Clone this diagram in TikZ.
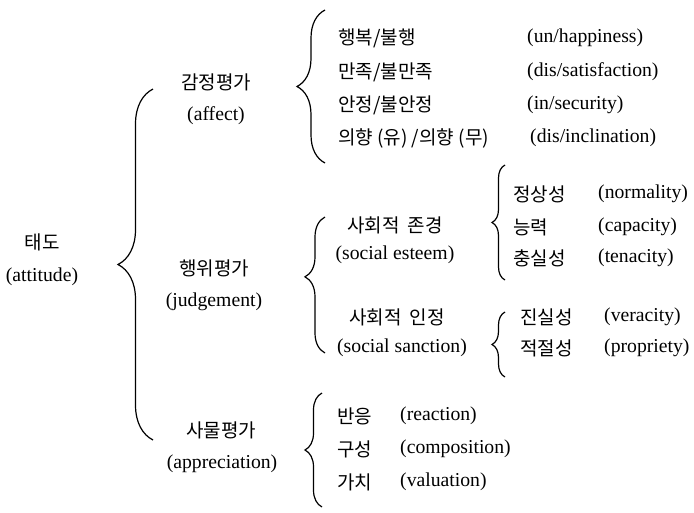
\documentclass[tikz,border=0pt]{standalone}
\usepackage{fontspec}
\setmainfont{Liberation Serif}
\newfontfamily\kor{Noto Sans CJK KR}
\usetikzlibrary{decorations.pathreplacing}

\begin{document}
\begin{tikzpicture}[x=1pt,y=-1pt,
      every node/.style={inner sep=0pt,font=\fontsize{19.7}{21}\selectfont},
      ko/.style={font=\kor\fontsize{19}{21}\selectfont},
      item/.style={anchor=west},
      curly/.style={decorate,line width=1.2pt,
        decoration={brace,amplitude=#1,aspect=0.5}}]
    \useasboundingbox (0,0) rectangle (694,512);

    % level 0
    \node[ko] (attitude) at (42,242) {태도};
    \node (attitudeEn) at (42,277) {(attitude)};

    % level 1
    \node[ko] (affect) at (216,82) {감정평가};
    \node (affectEn) at (216,116) {(affect)};
    \node[ko] (judgement) at (214,268) {행위평가};
    \node (judgementEn) at (214,302) {(judgement)};
    \node[ko] (apprec) at (221,430) {사물평가};
    \node (apprecEn) at (222,464) {(appreciation)};

    % affect items
    \node[ko,item] (happy) at (338,38) {행복/불행};
    \node[ko,item] (satis) at (338,72) {만족/불만족};
    \node[ko,item] (secur) at (338,105) {안정/불안정};
    \node[ko,item] (incl) at (338,138) {의향 (유) /의향 (무)};
    \node[item] (happyEn) at (527,38) {(un/happiness)};
    \node[item] (satisEn) at (527,72) {(dis/satisfaction)};
    \node[item] (securEn) at (527,105) {(in/security)};
    \node[item] (inclEn) at (530,138) {(dis/inclination)};

    % judgement level 2
    \node[ko] (esteem) at (395,225) {사회적\ \ 존경};
    \node (esteemEn) at (395,255) {(social esteem)};
    \node[ko] (sanction) at (397,317) {사회적\ \ 인정};
    \node (sanctionEn) at (402,348) {(social sanction)};

    % esteem items
    \node[ko,item] (normal) at (513,194) {정상성};
    \node[ko,item] (capac) at (513,227) {능력};
    \node[ko,item] (tenac) at (513,258) {충실성};
    \node[item] (normalEn) at (598,194) {(normality)};
    \node[item] (capacEn) at (598,227) {(capacity)};
    \node[item] (tenacEn) at (598,258) {(tenacity)};

    % sanction items
    \node[ko,item] (verac) at (520,317) {진실성};
    \node[ko,item] (propr) at (520,348) {적절성};
    \node[item] (veracEn) at (604,317) {(veracity)};
    \node[item] (proprEn) at (604,348) {(propriety)};

    % appreciation items
    \node[ko,item] (react) at (337,416) {반응};
    \node[ko,item] (compo) at (337,449) {구성};
    \node[ko,item] (valu) at (337,482) {가치};
    \node[item] (reactEn) at (400,416) {(reaction)};
    \node[item] (compoEn) at (400,449) {(composition)};
    \node[item] (valuEn) at (400,482) {(valuation)};

    % brace ends
    \coordinate (mainTop) at (153,89);
    \coordinate (mainBot) at (153,440);
    \coordinate (affTop) at (325,10);
    \coordinate (affBot) at (325,163);
    \coordinate (judTop) at (325,217);
    \coordinate (judBot) at (325,353);
    \coordinate (appTop) at (322,393);
    \coordinate (appBot) at (322,507);
    \coordinate (estTop) at (505,165);
    \coordinate (estBot) at (505,280);
    \coordinate (sanTop) at (505,312);
    \coordinate (sanBot) at (505,377);

    \draw[curly=35,decoration={aspect=0.5}] (mainBot) -- (mainTop);
    \draw[curly=28] (affBot) -- (affTop);
    \draw[curly=20,decoration={aspect=0.56}] (judBot) -- (judTop);
    \draw[curly=17] (appBot) -- (appTop);
    \draw[curly=13] (estBot) -- (estTop);
    \draw[curly=13] (sanBot) -- (sanTop);
  \end{tikzpicture}
\end{document}
